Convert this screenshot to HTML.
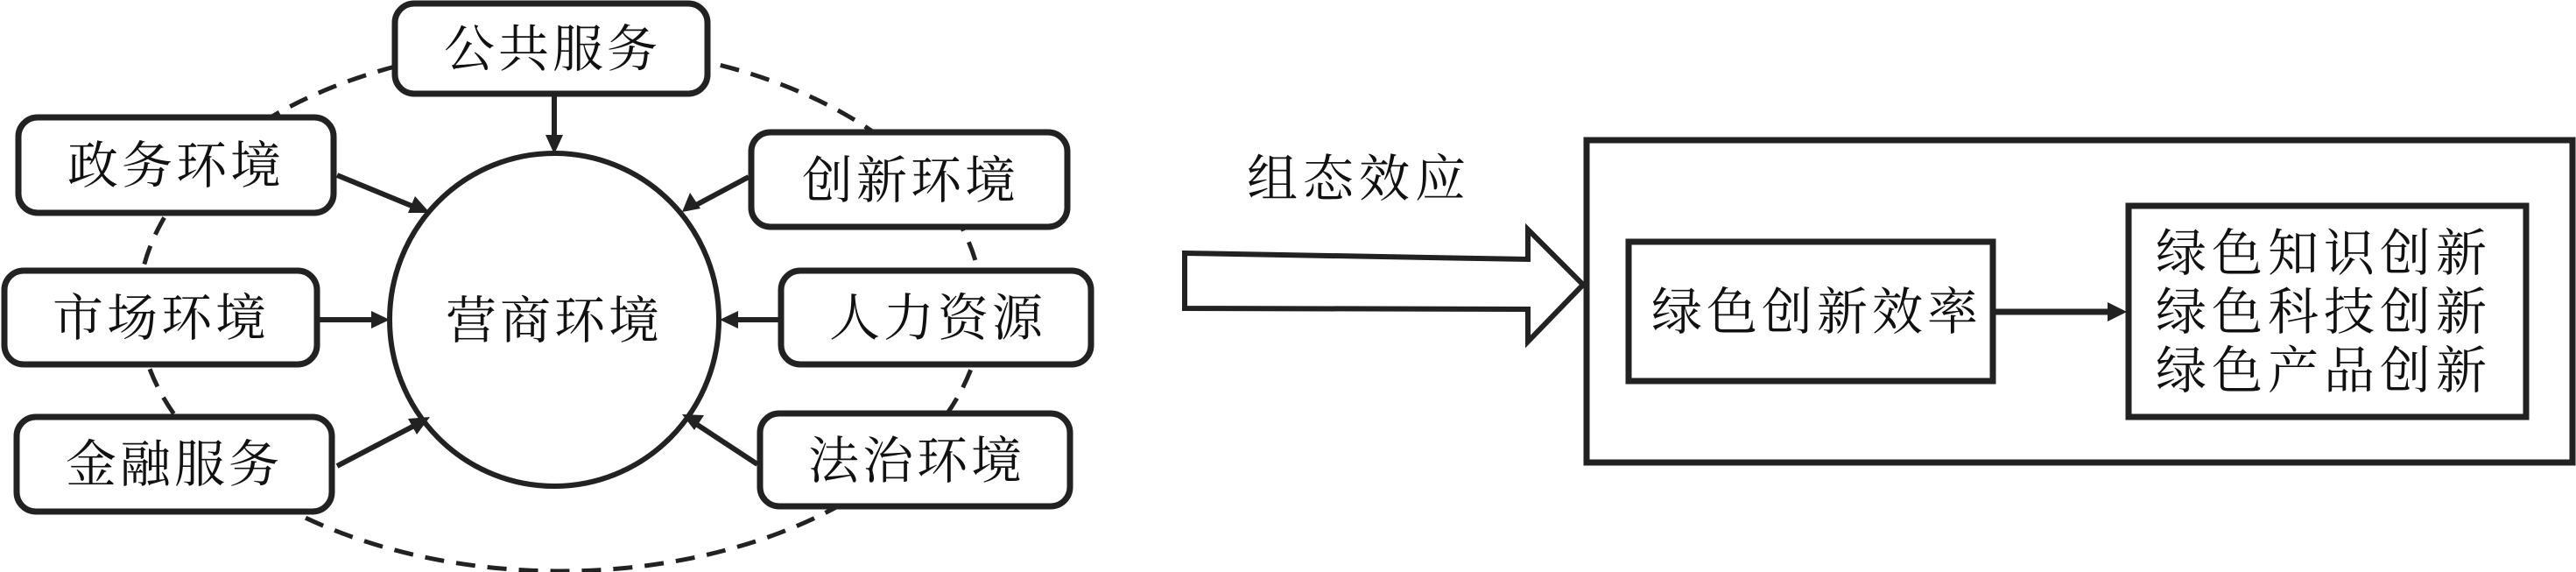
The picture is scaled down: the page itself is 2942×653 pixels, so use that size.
<!DOCTYPE html>
<html><head><meta charset="utf-8"><style>
html,body{margin:0;padding:0;background:#fff;}
svg{display:block;}
text{font-family:"Liberation Serif","Noto Serif CJK SC",serif;font-size:58px;fill:#111;}
</style></head><body>
<svg width="2942" height="653" viewBox="0 0 2942 653" xmlns="http://www.w3.org/2000/svg">
<ellipse cx="640" cy="352" rx="482" ry="300" fill="none" stroke="#222" stroke-width="5" stroke-dasharray="22 14"/>
<ellipse cx="633" cy="365" rx="188" ry="190" fill="#fff" stroke="#222" stroke-width="6"/>
<text x="633" y="386" text-anchor="middle" letter-spacing="4">营商环境</text>
<g fill="#fff" stroke="#222" stroke-width="7">
<rect x="451" y="4" width="357" height="103" rx="22"/>
<rect x="21" y="134" width="360" height="109" rx="22"/>
<rect x="5" y="309" width="357" height="107" rx="22"/>
<rect x="19" y="476" width="360" height="108" rx="22"/>
<rect x="858" y="151" width="361" height="108" rx="22"/>
<rect x="892" y="309" width="354" height="107" rx="22"/>
<rect x="868" y="472" width="354" height="106" rx="22"/>
</g>
<g text-anchor="middle" letter-spacing="4">
<text x="631" y="76">公共服务</text>
<text x="201" y="209">政务环境</text>
<text x="184" y="383">市场环境</text>
<text x="199" y="550">金融服务</text>
<text x="1040" y="226">创新环境</text>
<text x="1071" y="383">人力资源</text>
<text x="1047" y="546">法治环境</text>
</g>
<g stroke="#222" stroke-width="6">
<line x1="633" y1="110" x2="633" y2="158"/>
<line x1="385" y1="200" x2="475" y2="237"/>
<line x1="855" y1="202" x2="795" y2="234"/>
<line x1="365" y1="365" x2="428" y2="365"/>
<line x1="890" y1="365" x2="840" y2="365"/>
<line x1="385" y1="532" x2="475" y2="485"/>
<line x1="865" y1="530" x2="795" y2="484"/>
</g>
<g fill="#222">
<polygon points="633,176 623,154 643,154"/>
<polygon points="491,243 466,243 474,224"/>
<polygon points="779,242 788,220 800,238"/>
<polygon points="445,365 424,355 424,375"/>
<polygon points="822,365 843,355 843,375"/>
<polygon points="491,476 476,496 466,478"/>
<polygon points="779,473 804,474 793,491"/>
</g>
<text x="1424" y="224" letter-spacing="6">组态效应</text>
<polygon points="1353,289 1745,296 1745,262 1808,325 1745,390 1745,353 1353,352" fill="#fff" stroke="#222" stroke-width="6" stroke-linejoin="miter"/>
<rect x="1812" y="160" width="1126" height="368" fill="none" stroke="#222" stroke-width="7"/>
<rect x="1860" y="276" width="416" height="159" fill="#fff" stroke="#222" stroke-width="7"/>
<text x="1886" y="376" letter-spacing="5">绿色创新效率</text>
<line x1="2277" y1="356" x2="2410" y2="356" stroke="#222" stroke-width="7"/>
<polygon points="2429,356 2407,345 2407,367" fill="#222"/>
<rect x="2431" y="235" width="454" height="241" fill="#fff" stroke="#222" stroke-width="7"/>
<g letter-spacing="6">
<text x="2462" y="309">绿色知识创新</text>
<text x="2462" y="376">绿色科技创新</text>
<text x="2462" y="443">绿色产品创新</text>
</g>
</svg>
</body></html>
